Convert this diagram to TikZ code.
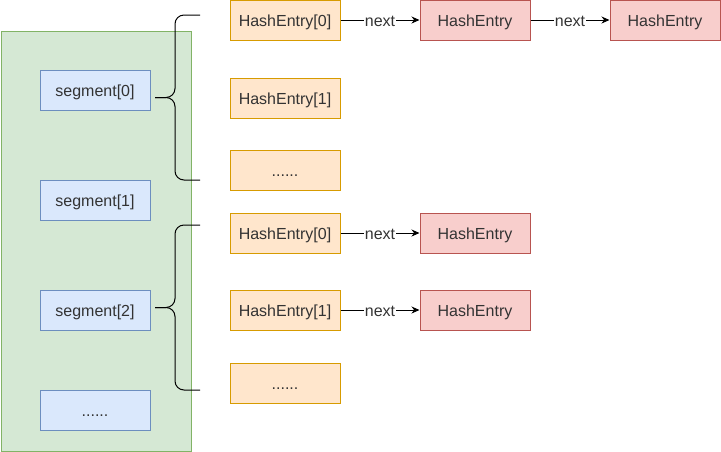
\documentclass[tikz,border=0pt]{standalone}
\usepackage{fontspec}
\setmainfont{Liberation Sans}
\usetikzlibrary{arrows.meta}
\usetikzlibrary{positioning}
\definecolor{greenfill}{HTML}{D5E8D4}
\definecolor{greenline}{HTML}{82B366}
\definecolor{bluefill}{HTML}{DAE8FC}
\definecolor{blueline}{HTML}{6C8EBF}
\definecolor{orangefill}{HTML}{FFE6CC}
\definecolor{orangeline}{HTML}{D79B00}
\definecolor{redfill}{HTML}{F8CECC}
\definecolor{redline}{HTML}{B85450}
\tikzstyle{boxtext} = [font=\fontsize{16pt}{19pt}\selectfont, text=black!80, text height=14.5pt, text depth=1pt]
\tikzstyle{segbox} = [rectangle, minimum width=110pt, minimum height=40pt, inner sep=0pt, draw=blueline, fill=bluefill, boxtext]
\tikzstyle{tablebox} = [rectangle, minimum width=110pt, minimum height=40pt, inner sep=0pt, draw=orangeline, fill=orangefill, boxtext]
\tikzstyle{entrybox} = [rectangle, minimum width=110pt, minimum height=40pt, inner sep=0pt, draw=redline, fill=redfill, boxtext]
\tikzstyle{arrow} = [line width=1pt,-{Stealth[length=8pt,width=7pt]}]
\tikzstyle{nextlabel} = [fill=white, inner sep=1pt, boxtext]
\tikzstyle{brace} = [line width=1pt, rounded corners=9pt]

\begin{document}
\begin{tikzpicture}[x=1pt, y=-1pt, line width=1pt]
 \useasboundingbox (0,0) rectangle (721,451);
 % segment array
 \node (segments) [rectangle, draw=greenline, fill=greenfill, minimum width=190pt, minimum height=420pt, inner sep=0pt, anchor=north west] at (0.5,30.5) {};
 \node (seg0) [segbox] at (95,90) {segment[0]};
 \node (seg1) [segbox] at (95,200) {segment[1]};
 \node (seg2) [segbox] at (95,310) {segment[2]};
 \node (segdots) [segbox] at (95,410) {......};

 % first table
 \node (tabA0) [tablebox] at (285,20) {HashEntry[0]};
 \node (tabA1) [tablebox] at (285,98) {HashEntry[1]};
 \node (tabA2) [tablebox] at (285,170) {......};
 \node (entA0) [entrybox] at (475,20) {HashEntry};
 \node (entA1) [entrybox] at (665,20) {HashEntry};

 % second table
 \node (tabB0) [tablebox] at (285,233) {HashEntry[0]};
 \node (tabB1) [tablebox] at (285,310) {HashEntry[1]};
 \node (tabB2) [tablebox] at (285,383) {......};
 \node (entB0) [entrybox] at (475,233) {HashEntry};
 \node (entB1) [entrybox] at (475,310) {HashEntry};

 % braces
 \coordinate (braceA) at (155,97.5);
 \coordinate (braceB) at (155,307.5);
 \draw [brace] (200,15) -| (175,97.5) -- (braceA);
 \draw [brace] (200,180) -| (175,97.5) -- (braceA);
 \draw [brace] (200,225) -| (175,307.5) -- (braceB);
 \draw [brace] (200,390) -| (175,307.5) -- (braceB);

 \draw [arrow] (tabA0) -- node[nextlabel] {next} (entA0);
 \draw [arrow] (entA0) -- node[nextlabel] {next} (entA1);
 \draw [arrow] (tabB0) -- node[nextlabel] {next} (entB0);
 \draw [arrow] (tabB1) -- node[nextlabel] {next} (entB1);
\end{tikzpicture}
\end{document}
